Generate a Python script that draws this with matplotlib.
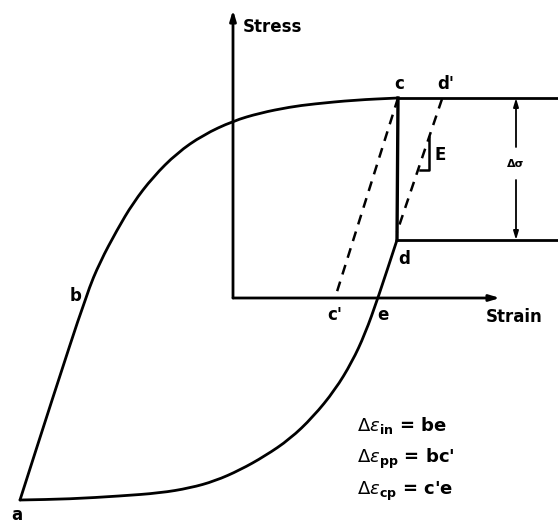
import matplotlib
matplotlib.use("Agg")
import matplotlib.pyplot as plt
from matplotlib.path import Path
from matplotlib.patches import PathPatch

# Upper (loading) branch: a -> b -> c   (strain, stress in sketch units)
upper_strain = [20, 52, 87, 100, 117, 133, 153, 177, 203, 233, 260, 290, 313, 355, 398]
upper_stress = [25, 125, 232, 263, 295, 322, 348, 372, 390, 404, 412, 418, 421, 425, 427]
# Lower (reverse) branch: a -> e -> d
lower_strain = [20, 70, 120, 160, 190, 215, 240, 265, 290, 313, 335, 352, 365, 378, 397]
lower_stress = [25, 26, 29, 32, 37, 44, 55, 69, 86, 108, 135, 163, 191, 227, 285]

# Key points
pt = {
    "a": (20, 25), "b": (87, 232), "c": (398, 427), "d": (397, 285),
    "e": (378, 227), "c'": (335, 227), "d'": (442, 426),
}
origin = (233, 227)
strain_axis_end = 500
stress_axis_end = 515
right_edge = 558
E_tri_x = [420, 429, 429]
E_tri_y = [355, 355, 388]

fig = plt.figure(figsize=(5.58, 5.25), dpi=100)
ax = fig.add_axes([0, 0, 1, 1])
ax.set_xlim(0, 558)
ax.set_ylim(0, 525)
ax.axis("off")

lw = 2.0


def smooth_path(xs, ys):
    """Quadratic-Bezier path using read points as control points."""
    P = list(zip(xs, ys))
    verts = [P[0]]
    codes = [Path.MOVETO]
    for i in range(1, len(P) - 1):
        m = ((P[i][0] + P[i + 1][0]) / 2, (P[i][1] + P[i + 1][1]) / 2)
        if i == 1:
            m0 = ((P[0][0] + P[1][0]) / 2, (P[0][1] + P[1][1]) / 2)
            verts.append(m0)
            codes.append(Path.LINETO)
        verts += [P[i], m]
        codes += [Path.CURVE3, Path.CURVE3]
    verts.append(P[-1])
    codes.append(Path.LINETO)
    return Path(verts, codes)


ax.add_patch(PathPatch(smooth_path(upper_strain, upper_stress), fill=False,
                       color="black", lw=lw, capstyle="round", joinstyle="round"))
ax.add_patch(PathPatch(smooth_path(lower_strain, lower_stress), fill=False,
                       color="black", lw=lw, capstyle="round", joinstyle="round"))

# horizontal lines at c and d levels
ax.plot([pt["c"][0], right_edge], [pt["c"][1], pt["c"][1]], color="black", lw=lw)
ax.plot([pt["d"][0], right_edge], [pt["d"][1], pt["d"][1]], color="black", lw=lw)
# vertical c-d
ax.plot([pt["c"][0], pt["d"][0]], [pt["c"][1], pt["d"][1]], color="black", lw=2.4)

# dashed elastic lines
ax.plot([pt["c"][0], pt["c'"][0]], [pt["c"][1], pt["c'"][1]], color="black", lw=1.8,
        dashes=(4, 3))
ax.plot([pt["d'"][0], pt["d"][0]], [pt["d'"][1], pt["d"][1] + 8], color="black", lw=1.8,
        dashes=(4, 3))

# axes
arrow = dict(arrowstyle="-|>,head_length=0.6,head_width=0.18", color="black", lw=2.0,
             shrinkA=0, shrinkB=0)
ax.annotate("", xy=(origin[0], stress_axis_end), xytext=origin, arrowprops=arrow)
ax.annotate("", xy=(strain_axis_end, origin[1]), xytext=origin, arrowprops=arrow)

# delta sigma dimension line
dim = dict(arrowstyle="-|>,head_length=0.5,head_width=0.15", color="black", lw=1.3,
           shrinkA=0, shrinkB=0)
ax.annotate("", xy=(516, pt["c"][1]), xytext=(516, 378), arrowprops=dim)
ax.annotate("", xy=(516, pt["d"][1]), xytext=(516, 345), arrowprops=dim)
ax.text(516, 361, "Δσ", ha="center", va="center", fontsize=8, fontweight="bold")

# E slope triangle
ax.plot(E_tri_x, E_tri_y, color="black", lw=1.8)
ax.text(434, 370, "E", ha="left", va="center", fontsize=12, fontweight="bold")

fs = 12
kw = dict(fontsize=fs, fontweight="bold", family="DejaVu Sans")
ax.text(243, 498, "Stress", ha="left", va="center", **kw)
ax.text(486, 208, "Strain", ha="left", va="center", **kw)
ax.text(17, 10, "a", ha="center", va="center", **kw)
ax.text(76, 229, "b", ha="center", va="center", **kw)
ax.text(399, 441, "c", ha="center", va="center", **kw)
ax.text(446, 441, "d'", ha="center", va="center", **kw)
ax.text(404, 266, "d", ha="center", va="center", **kw)
ax.text(383, 210, "e", ha="center", va="center", **kw)
ax.text(335, 210, "c'", ha="center", va="center", **kw)

eqs = [r"$\Delta\epsilon_{\mathbf{in}}$ = be", r"$\Delta\epsilon_{\mathbf{pp}}$ = bc'",
       r"$\Delta\epsilon_{\mathbf{cp}}$ = c'e"]
eq_y = [100, 66, 34]
for s, yy in zip(eqs, eq_y):
    ax.text(357, yy, s, ha="left", va="center", fontsize=13, fontweight="bold")

fig.savefig("out.png", dpi=100)
